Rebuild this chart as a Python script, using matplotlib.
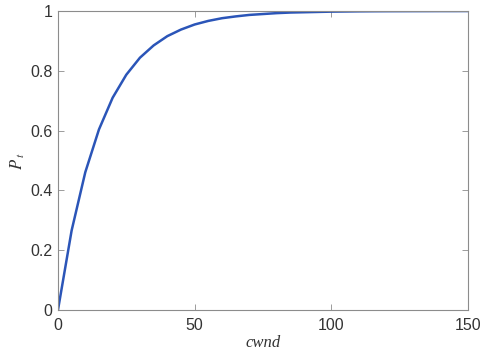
import matplotlib
matplotlib.use("Agg")
import matplotlib.pyplot as plt

plt.rcParams["mathtext.fontset"] = "stix"

cwnd = [0, 5, 10, 15, 20, 25, 30, 35, 40, 45, 50, 55, 60, 65, 70, 75, 80, 85, 90, 95, 100,
        105, 110, 115, 120, 125, 130, 135, 140, 145, 150]
pt = [0.0, 0.266, 0.461, 0.604, 0.710, 0.787, 0.844, 0.885, 0.916, 0.938, 0.955, 0.967,
      0.976, 0.982, 0.987, 0.990, 0.993, 0.995, 0.996, 0.997, 0.998, 0.9985, 0.999,
      0.9993, 0.9995, 0.9996, 0.9997, 0.9998, 0.9999, 0.9999, 1.0]
xticks = [0, 50, 100, 150]
yticks = [0, 0.2, 0.4, 0.6, 0.8, 1]
yticklabels = ["0", "0.2", "0.4", "0.6", "0.8", "1"]

fig = plt.figure(figsize=(4.87, 3.56), dpi=100)
ax = fig.add_axes([0.119, 0.129, 0.842, 0.840])
ax.plot(cwnd, pt, color="#2b55b8", lw=1.8, solid_capstyle="butt")
ax.set_xlim(0, 150)
ax.set_ylim(0, 1)
ax.set_xticks(xticks)
ax.set_xticklabels([str(t) for t in xticks])
ax.set_yticks(yticks)
ax.set_yticklabels(yticklabels)
for s in ax.spines.values():
    s.set_color("#8c8c8c")
    s.set_linewidth(0.8)
ax.tick_params(direction="in", top=True, right=True, length=4, width=0.6,
               color="#8c8c8c", labelcolor="#333333", labelsize=11.5)
ax.tick_params(axis="x", pad=6)
ax.tick_params(axis="y", pad=4)
for lbl in ax.get_xticklabels() + ax.get_yticklabels():
    lbl.set_family("Liberation Sans")
ax.set_xlabel("cwnd", fontfamily="Liberation Serif", fontstyle="italic",
              fontsize=12, color="#333333", labelpad=1)
ax.set_ylabel(r"$P_{\ t}$", fontsize=12, color="#333333", labelpad=2)
fig.savefig("out.png", dpi=100)
